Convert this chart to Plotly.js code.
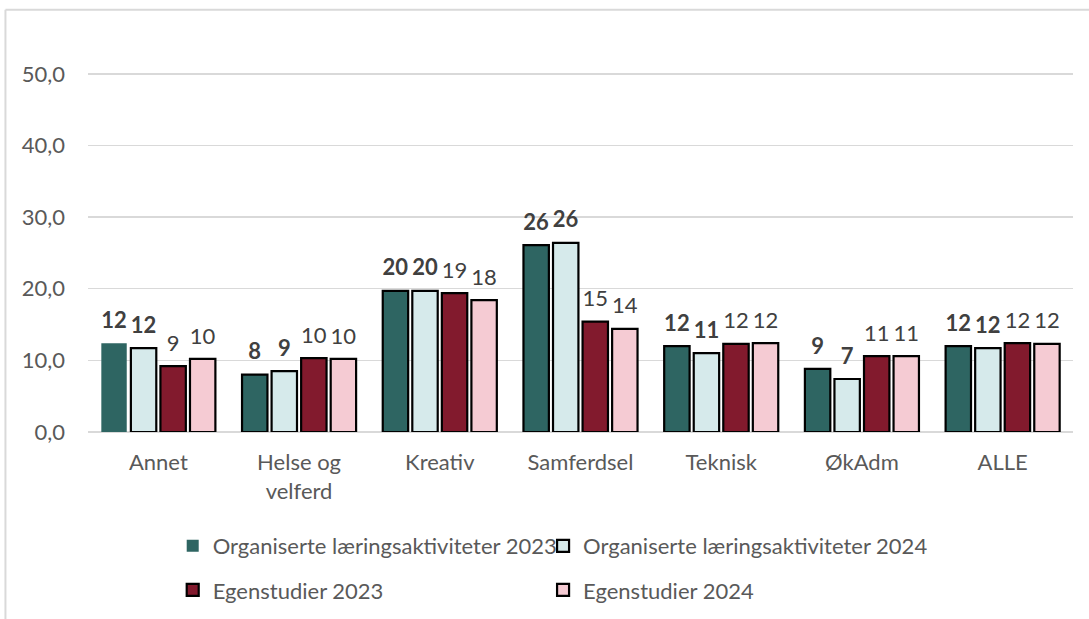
<!DOCTYPE html>
<html>
<head>
<meta charset="utf-8">
<script src="https://cdn.plot.ly/plotly-3.0.1.min.js"></script>
<style>
html,body{margin:0;padding:0;background:#fff;}
#chart{width:1089px;height:619px;}
</style>
</head>
<body>
<div id="chart"></div>
<script>
const categories = ["Annet", "Helse og<br>velferd", "Kreativ", "Samferdsel", "Teknisk", "ØkAdm", "ALLE"];
const seriesNames = ["Organiserte læringsaktiviteter 2023", "Organiserte læringsaktiviteter 2024", "Egenstudier 2023", "Egenstudier 2024"];
const org2023 = [12.4, 8.0, 19.7, 26.1, 12.0, 8.8, 12.0];
const org2024 = [11.7, 8.5, 19.7, 26.4, 11.0, 7.4, 11.7];
const ege2023 = [9.2, 10.3, 19.4, 15.4, 12.3, 10.6, 12.4];
const ege2024 = [10.2, 10.2, 18.4, 14.4, 12.4, 10.6, 12.3];
const yTicks = [0, 10, 20, 30, 40, 50];

const colors = ["#2E6562", "#D6EAEB", "#821A2D", "#F5CBD3"];
const values = [org2023, org2024, ege2023, ege2024];
const bold = [true, true, false, false];
const legendIds = ["legend", "legend2", "legend3", "legend4"];
const font = "Lato, 'Open Sans', sans-serif";
const fs = 22;

const traces = values.map((v, i) => ({
  type: "bar",
  name: seriesNames[i],
  x: categories,
  y: v,
  legend: legendIds[i],
  marker: {
    color: colors[i],
    line: {color: "#000", width: i === 0 ? v.map((_, k) => k === 0 ? 0 : 2.2) : 2.2}
  },
  text: v.map(x => Math.round(x).toString()),
  texttemplate: "<span style='font-size:" + fs + "px'>" + (bold[i] ? "<b>%{text}</b>" : "%{text}") + "</span><br> ",
  textposition: "outside",
  constraintext: "none",
  cliponaxis: false,
  textfont: {family: font, size: 8, color: "#404040"},
  hoverinfo: "skip"
}));

function leg(x, y) {
  return {
    orientation: "h",
    x: x, xanchor: "left",
    y: y, yanchor: "top",
    font: {size: fs, color: "#595959"},
    itemwidth: 30,
    bgcolor: "rgba(0,0,0,0)"
  };
}

const col1 = 0.086, col2 = 0.462, row1 = -0.236, row2 = -0.348;

const layout = {
  width: 1089,
  height: 619,
  margin: {l: 88, r: 16, t: 38, b: 187, autoexpand: false},
  paper_bgcolor: "#fff",
  plot_bgcolor: "#fff",
  font: {family: font, color: "#595959", size: fs},
  barmode: "group",
  bargap: 0.16,
  bargroupgap: 0.14,
  showlegend: true,
  xaxis: {
    type: "category",
    automargin: false,
    showgrid: false,
    showline: false,
    ticks: "",
    tickfont: {size: fs, color: "#595959"},
    ticklabelstandoff: 15
  },
  yaxis: {
    automargin: false,
    range: [0, 55],
    tickvals: yTicks,
    tickformat: ".1f",
    showgrid: true,
    gridcolor: "#D9D9D9",
    gridwidth: 1.5,
    zeroline: true,
    zerolinecolor: "#D9D9D9",
    zerolinewidth: 1.5,
    showline: false,
    ticks: "",
    ticklabelstandoff: 22,
    tickfont: {size: fs, color: "#595959"}
  },
  separators: ", ",
  legend: leg(col1, row1),
  legend2: leg(col2, row1),
  legend3: leg(col1, row2),
  legend4: leg(col2, row2),
  shapes: [
    {type: "line", xref: "paper", yref: "paper", x0: -0.0838, x1: 1.1, y0: 1.072, y1: 1.072, line: {color: "#D9D9D9", width: 2}},
    {type: "line", xref: "paper", yref: "paper", x0: -0.0838, x1: -0.0838, y0: 1.072, y1: -0.5, line: {color: "#D9D9D9", width: 2}}
  ]
};

Plotly.newPlot("chart", traces, layout, {displayModeBar: false, staticPlot: true});
</script>
</body>
</html>
